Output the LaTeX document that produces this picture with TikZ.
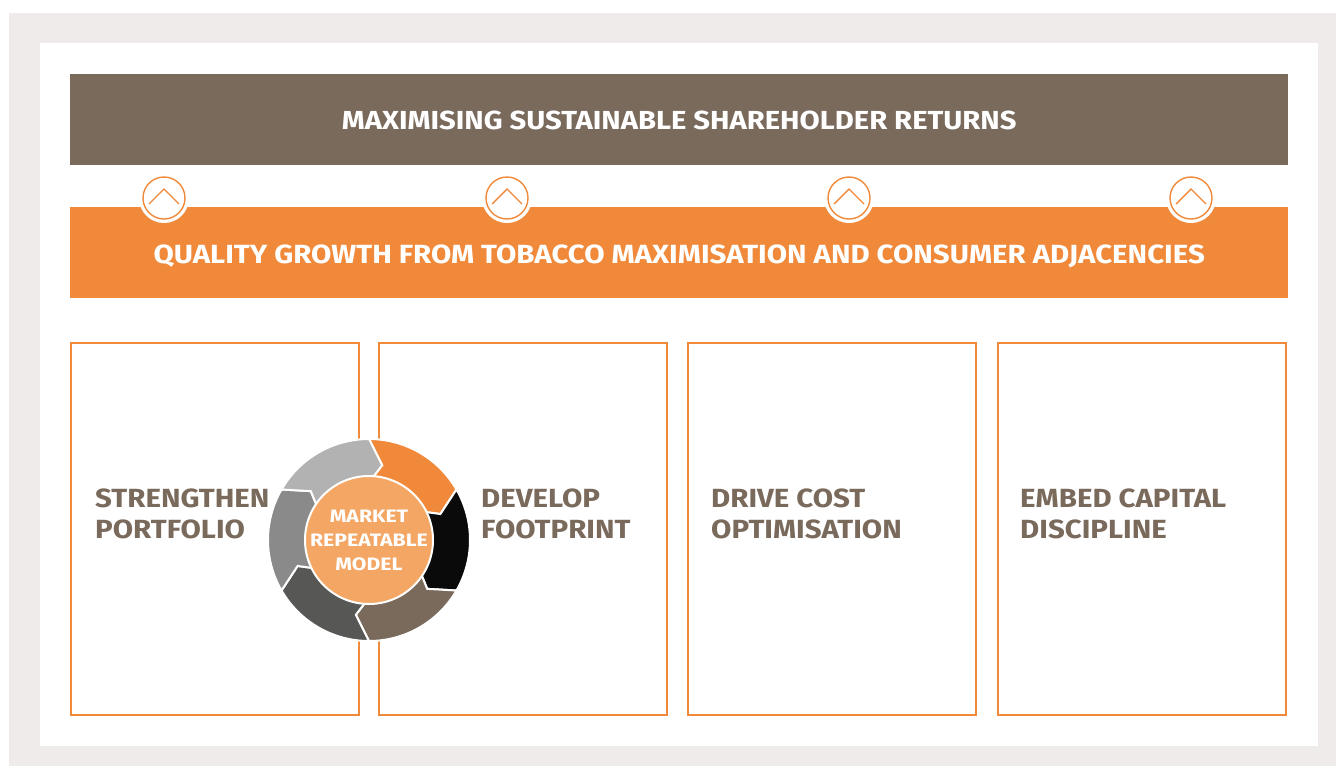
\documentclass[tikz,border=0pt]{standalone}
\usepackage{fontspec}
\setmainfont{Fira Sans}[FakeStretch=1.12]
\newfontfamily\hubfont{Fira Sans}[FakeStretch=1.18]
\definecolor{bgGrey}{HTML}{EFEBEA}
\definecolor{brownA}{HTML}{7A6A5C}
\definecolor{orangeA}{HTML}{F0893A}
\definecolor{orangeL}{HTML}{F4A664}
\definecolor{dGrey}{HTML}{575756}
\definecolor{mGrey}{HTML}{8A8A8A}
\definecolor{lGrey}{HTML}{B2B2B2}
\definecolor{blackA}{HTML}{0A0A0A}
\tikzset{
  bar/.style={anchor=north west, inner sep=0pt, minimum width=1218pt, minimum height=91pt},
  bartext/.style={text=white, font=\bfseries\fontsize{26.1}{30}\selectfont},
  pillar/.style={draw=orangeA, line width=2pt, fill=white, anchor=north west, inner sep=0pt, minimum width=288pt, minimum height=372pt},
  pillartext/.style={anchor=north west, align=left, inner sep=0pt, text=brownA, font=\bfseries\fontsize{26.3}{31}\selectfont},
  upbadge/.style={circle, fill=white, minimum size=50pt, inner sep=0pt},
  upring/.style={draw=orangeA, line width=1.4pt, fill=white},
  seg/.style={draw=white, line width=2pt}
}
\begin{document}
\begin{tikzpicture}[x=1pt,y=-1pt]
\useasboundingbox (0,0) rectangle (1336,766);
\fill[bgGrey] (9,13) rectangle (1336,766);
\fill[white] (40,43) rectangle (1318,746);
% bars
\node[bar, fill=brownA] (top) at (70,74) {};
\node[bartext] (toptext) at ([yshift=-1]top.center) {MAXIMISING SUSTAINABLE SHAREHOLDER RETURNS};
\node[bar, fill=orangeA] (mid) at (70,207) {};
\node[bartext, font=\bfseries\fontsize{26.3}{30}\selectfont] (midtext) at ([yshift=-3.5]mid.center) {QUALITY GROWTH FROM TOBACCO MAXIMISATION AND CONSUMER ADJACENCIES};
% up badges
\foreach \i/\x in {1/164,2/507,3/849,4/1191}{
  \node[upbadge] (b\i) at (\x,198) {};
  \draw[upring] (b\i.center) circle (21);
  \draw[orangeA, line width=1.4pt] ([shift={(-15,6)}]b\i.center) -- ([shift={(0,-9)}]b\i.center) -- ([shift={(15,6)}]b\i.center);
}
% pillars
\node[pillar] (p1) at (70,342) {};
\node[pillar] (p2) at (378,342) {};
\node[pillar] (p3) at (687,342) {};
\node[pillar] (p4) at (997,342) {};
\node[pillartext] (t1) at (95,489) {STRENGTHEN\\PORTFOLIO};
\node[pillartext] (t2) at (481,489) {DEVELOP\\FOOTPRINT};
\node[pillartext] (t3) at (711,489) {DRIVE COST\\OPTIMISATION};
\node[pillartext] (t4) at (1020,489) {EMBED CAPITAL\\DISCIPLINE};
% wheel
\begin{scope}[shift={(369,540)}, x=1pt, y=1pt]
\foreach \s/\c in {90/orangeA, 30/blackA, -30/brownA, -90/dGrey, -150/mGrey, -210/lGrey}{
  \pgfmathsetmacro{\e}{\s-60}
  \filldraw[seg, fill=\c] (\s:101) arc[start angle=\s, end angle=\e, radius=101]
     -- (\e-10:76) -- (\e-3:62) arc[start angle=\e-3, end angle=\s-3, radius=62]
     -- (\s-10:76) -- cycle;
}
\node[circle, fill=orangeL, draw=white, line width=2pt, minimum size=128pt, inner sep=0pt] (hub) at (0,0) {};
\node[align=center, text=white, font=\hubfont\bfseries\fontsize{18}{24}\selectfont, inner sep=0pt] (hubtext) at (hub.center) {MARKET\\REPEATABLE\\MODEL};
\end{scope}
\end{tikzpicture}
\end{document}
